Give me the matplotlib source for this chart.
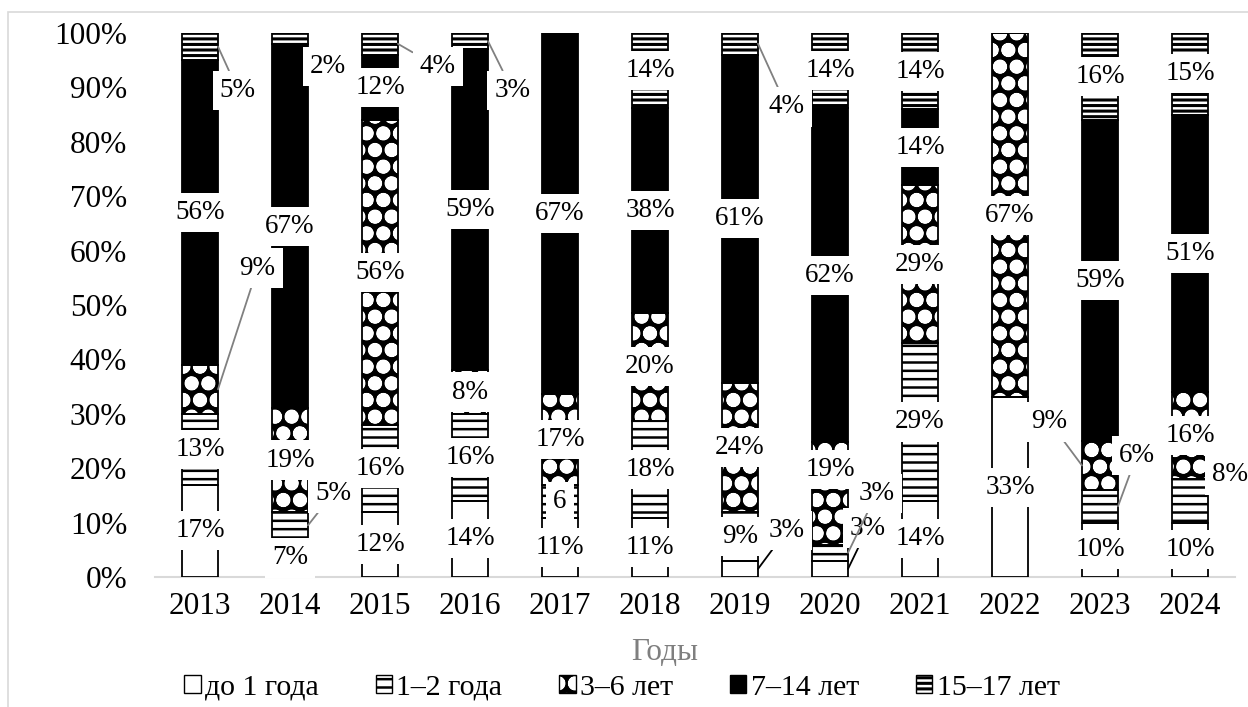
import matplotlib.pyplot as plt
import numpy as np
from matplotlib.patches import Patch, Rectangle

plt.rcParams['font.family'] = ['Liberation Serif', 'DejaVu Serif']
plt.rcParams['hatch.linewidth'] = 1.8

# Данные: доля (%) по возрастным группам
years = ['2013', '2014', '2015', '2016', '2017', '2018',
         '2019', '2020', '2021', '2022', '2023', '2024']
groups = ['до 1 года', '1–2 года', '3–6 лет', '7–14 лет', '15–17 лет']
do_1 = [17, 7, 12, 14, 11, 11, 3, 3, 14, 33, 10, 10]
g1_2 = [13, 5, 16, 16, 6, 18, 9, 3, 29, 0, 6, 8]
g3_6 = [9, 19, 56, 8, 17, 20, 24, 19, 29, 67, 9, 16]
g7_14 = [56, 67, 12, 59, 67, 38, 61, 62, 14, 0, 59, 51]
g15_17 = [5, 2, 4, 3, 0, 14, 4, 14, 14, 0, 16, 15]

data = np.array([do_1, g1_2, g3_6, g7_14, g15_17], dtype=float)
shares = data / data.sum(axis=0) * 100  # 100% с накоплением, как в Excel

# оформление рядов: заливка, штриховка, цвет штриховки
faces = ['white', 'white', 'black', 'black', 'black']
hatches = [None, '--', 'Oo.', None, '---']
hcolors = ['black', 'black', 'white', 'black', 'white']

# выноски: (год, группа) -> (dx, y текста, цвет линии или None)
callouts = {
    (0, 2): (0.64, 56.8, 'gray'),
    (0, 4): (0.42, 89.5, 'gray'),
    (1, 1): (0.48, 15.4, 'gray'),
    (1, 4): (0.42, 93.8, None),
    (2, 4): (0.64, 93.8, 'gray'),
    (3, 4): (0.47, 89.5, 'gray'),
    (6, 0): (0.52, 8.6, 'black'),
    (6, 4): (0.52, 86.4, 'gray'),
    (7, 0): (0.42, 9.0, 'black'),
    (7, 1): (0.52, 15.4, 'gray'),
    (7, 2): (0.0, 19.7, None),
    (10, 2): (-0.56, 28.5, 'gray'),
    (10, 1): (0.41, 22.4, 'gray'),
    (11, 1): (0.44, 18.75, None),
}
text_override = {(4, 1): '6'}

fig = plt.figure(figsize=(12.48, 7.07), dpi=100)
ax = fig.add_axes([155 / 1248, 1 - 577 / 707, 1080 / 1248, 544 / 707])

x = np.arange(len(years))
w = 0.4
bottom = np.zeros(len(years))
for k in range(len(groups)):
    ax.bar(x, shares[k], w, bottom=bottom, color=faces[k],
           edgecolor=hcolors[k], hatch=hatches[k], linewidth=0, zorder=2)
    ax.bar(x, shares[k], w, bottom=bottom, fill=False, edgecolor='black',
           linewidth=1.3, zorder=3)
    bottom += shares[k]

# подписи данных
lab_fs = 19.5
bottom = np.zeros(len(years))
for k in range(len(groups)):
    for i in range(len(years)):
        v = data[k, i]
        if v == 0:
            continue
        yc = bottom[i] + shares[k, i] / 2
        label = text_override.get((i, k), f'{int(v)}%')
        box = dict(facecolor='white', edgecolor='none', pad=5)
        if (i, k) in callouts:
            dx, ty, lc = callouts[(i, k)]
            if lc is None:
                ax.text(i + dx, ty, label, ha='center', va='center',
                        fontsize=lab_fs, bbox=box, zorder=5)
            else:
                xs = i + w / 2 if dx > 0 else i - w / 2
                ax.annotate(label, xy=(xs, yc), xytext=(i + dx, ty),
                            ha='center', va='center', fontsize=lab_fs, bbox=box,
                            arrowprops=dict(arrowstyle='-', color=lc, lw=1.3,
                                            shrinkA=0, shrinkB=0),
                            zorder=5)
        else:
            ax.text(i, yc, label, ha='center', va='center',
                    fontsize=lab_fs, bbox=box, zorder=5)
    bottom += shares[k]

ax.set_xlim(-0.5, len(years) - 0.5)
ax.set_ylim(0, 100)
ax.set_xticks(x)
ax.set_xticklabels(years)
ax.set_yticks(np.arange(0, 101, 10))
ax.set_yticklabels([f'{t}%' for t in range(0, 101, 10)])
ax.tick_params(axis='both', length=0, labelsize=22.5)
ax.tick_params(axis='y', pad=20)
ax.tick_params(axis='x', pad=11)
for s in ['left', 'right', 'top']:
    ax.spines[s].set_visible(False)
ax.spines['bottom'].set_color('#d9d9d9')
ax.spines['bottom'].set_linewidth(1.5)
ax.spines['bottom'].set_zorder(1)

fig.text(665 / 1248, 1 - 652 / 707, 'Годы', ha='center', va='center',
         fontsize=22.5, color='#7f7f7f')

# легенда
handles = []
for k in range(len(groups)):
    hp = Patch(facecolor=faces[k], edgecolor=hcolors[k], hatch=hatches[k], linewidth=0)
    op = Patch(fill=False, edgecolor='black', linewidth=1.0)
    handles.append((hp, op))
fig.legend(handles, groups, loc='center', bbox_to_anchor=(622 / 1248, 1 - 688 / 707),
           ncol=5, frameon=False, fontsize=21.5, handlelength=0.55, handleheight=0.55,
           handletextpad=0.15, columnspacing=1.9)

# рамка области диаграммы
fig.add_artist(Rectangle((8 / 1248, -0.1), 1.2, 1 - 12 / 707 + 0.1, fill=False,
                         edgecolor='#d9d9d9', linewidth=1.2, transform=fig.transFigure))

plt.savefig('out.png', dpi=100)
plt.close()
